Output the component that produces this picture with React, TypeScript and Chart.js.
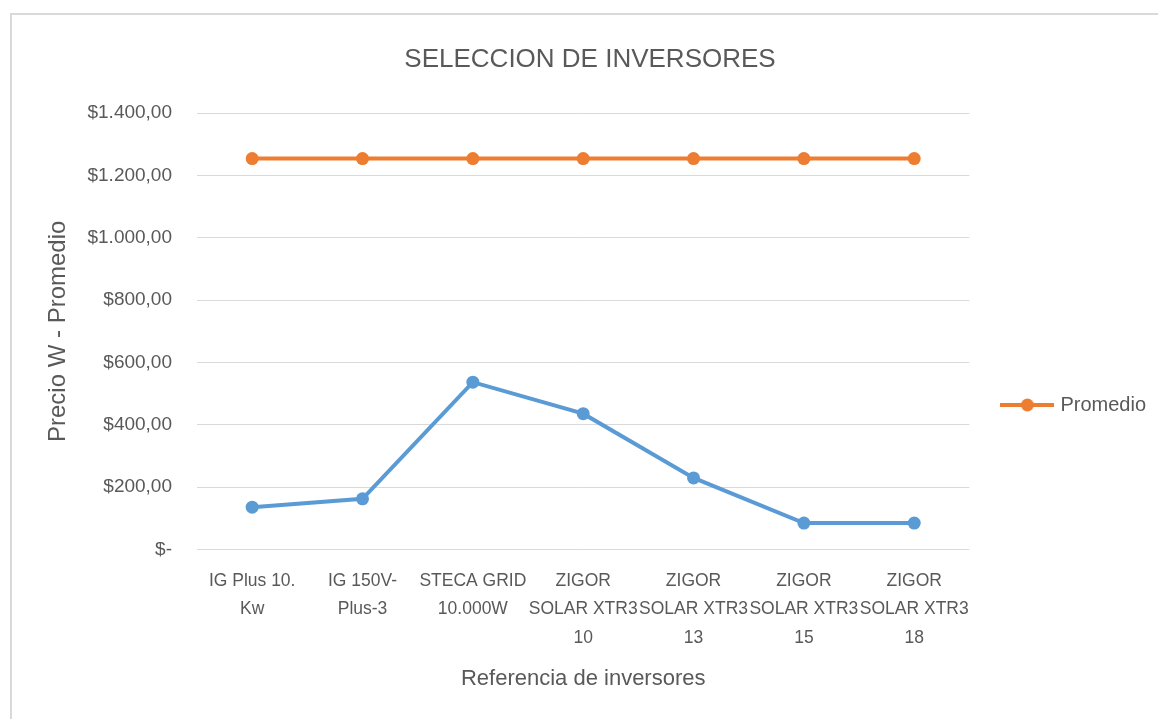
import React, { useEffect, useRef } from 'react';
import { Chart, registerables } from 'chart.js';

Chart.register(...registerables);

const chartTitle = 'SELECCION DE INVERSORES';
const xAxisTitle = 'Referencia de inversores';
const yAxisTitle = 'Precio W - Promedio';

const categories: string[][] = [
  ['IG Plus 10.', 'Kw'],
  ['IG 150V-', 'Plus-3'],
  ['STECA GRID', '10.000W'],
  ['ZIGOR', 'SOLAR XTR3', '10'],
  ['ZIGOR', 'SOLAR XTR3', '13'],
  ['ZIGOR', 'SOLAR XTR3', '15'],
  ['ZIGOR', 'SOLAR XTR3', '18'],
];

const precioW = [136, 163, 537, 436, 230, 85, 85];
const promedio = [1254, 1254, 1254, 1254, 1254, 1254, 1254];

const yMin = 0;
const yMax = 1400;
const yStep = 200;

const BLUE = '#5B9BD5';
const ORANGE = '#ED7D31';
const TEXT = '#595959';
const GRID = '#D9D9D9';
const FONT = "'Liberation Sans', Arial, sans-serif";

function formatPeso(v: number): string {
  if (v === 0) return '$-';
  const fixed = v.toFixed(2);
  const [intPart, dec] = fixed.split('.');
  const withSep = intPart.replace(/\B(?=(\d{3})+(?!\d))/g, '.');
  return '$' + withSep + ',' + dec;
}

function makeLegendImage(color: string): HTMLCanvasElement {
  const c = document.createElement('canvas');
  c.width = 54;
  c.height = 14;
  const ctx = c.getContext('2d')!;
  ctx.strokeStyle = color;
  ctx.lineWidth = 4;
  ctx.beginPath();
  ctx.moveTo(0, 7);
  ctx.lineTo(54, 7);
  ctx.stroke();
  ctx.fillStyle = color;
  ctx.beginPath();
  ctx.arc(27, 7, 6.5, 0, Math.PI * 2);
  ctx.fill();
  return c;
}

export default function App() {
  const canvasRef = useRef<HTMLCanvasElement | null>(null);

  useEffect(() => {
    if (!canvasRef.current) return;
    const legendImg = makeLegendImage(ORANGE);
    const chart = new Chart(canvasRef.current, {
      type: 'line',
      data: {
        labels: categories,
        datasets: [
          {
            label: 'Precio W',
            data: precioW,
            borderColor: BLUE,
            backgroundColor: BLUE,
            borderWidth: 4,
            pointRadius: 6.5,
            pointBorderWidth: 0,
            pointBackgroundColor: BLUE,
            tension: 0,
          },
          {
            label: 'Promedio',
            data: promedio,
            borderColor: ORANGE,
            backgroundColor: ORANGE,
            borderWidth: 4,
            pointRadius: 6.5,
            pointBorderWidth: 0,
            pointBackgroundColor: ORANGE,
            tension: 0,
          },
        ],
      },
      options: {
        responsive: false,
        animation: false,
        devicePixelRatio: 1,
        layout: {
          padding: { left: 24, right: 2, top: 20, bottom: 8 },
        },
        plugins: {
          title: {
            display: true,
            text: chartTitle,
            color: TEXT,
            font: { family: FONT, size: 26, weight: 'normal', lineHeight: 1.2 },
            padding: { top: 24.4, bottom: 37.4 },
          },
          legend: {
            display: true,
            position: 'right',
            title: {
              display: true,
              text: '',
              font: { size: 10, lineHeight: 1.2 },
              padding: { top: 67, bottom: 0 },
            },
            labels: {
              usePointStyle: true,
              pointStyle: legendImg as any,
              pointStyleWidth: 46,
              padding: 35,
              color: TEXT,
              font: { family: FONT, size: 20 },
              filter: (item: any) => item.datasetIndex === 1,
            },
          },
          tooltip: { enabled: false },
        },
        scales: {
          x: {
            type: 'category',
            offset: true,
            grid: { display: false, drawTicks: false },
            border: { display: false },
            ticks: {
              color: TEXT,
              font: { family: FONT, size: 17.5, lineHeight: 1.63 },
              padding: 17,
              maxRotation: 0,
              minRotation: 0,
              autoSkip: false,
            },
            title: {
              display: true,
              text: xAxisTitle,
              color: TEXT,
              font: { family: FONT, size: 22, lineHeight: 0.9 },
              padding: { top: 0, bottom: 22 },
            },
          },
          y: {
            min: yMin,
            max: yMax,
            grid: { color: GRID, lineWidth: 1, drawTicks: false },
            border: { display: false },
            ticks: {
              stepSize: yStep,
              color: TEXT,
              font: { family: FONT, size: 19 },
              padding: 25,
              callback: (v: any) => formatPeso(Number(v)),
            },
            title: {
              display: true,
              text: yAxisTitle,
              color: TEXT,
              font: { family: FONT, size: 24, lineHeight: 1.2 },
              padding: { top: 19.6, bottom: 0 },
            },
            afterFit: (scale: any) => {
              scale.width = 173;
            },
          },
        },
      },
    });
    return () => chart.destroy();
  }, []);

  return (
    <div
      style={{
        position: 'fixed',
        left: 0,
        top: 0,
        width: 1158,
        height: 719,
        background: '#ffffff',
        overflow: 'hidden',
      }}
    >
      <div
        style={{
          position: 'absolute',
          left: 10,
          top: 13,
          width: 1200,
          height: 800,
          borderTop: '2px solid #D9D9D9',
          borderLeft: '2px solid #D9D9D9',
        }}
      />
      <canvas
        ref={canvasRef}
        width={1158}
        height={719}
        style={{ position: 'absolute', left: 0, top: 0, width: 1158, height: 719 }}
      />
    </div>
  );
}
